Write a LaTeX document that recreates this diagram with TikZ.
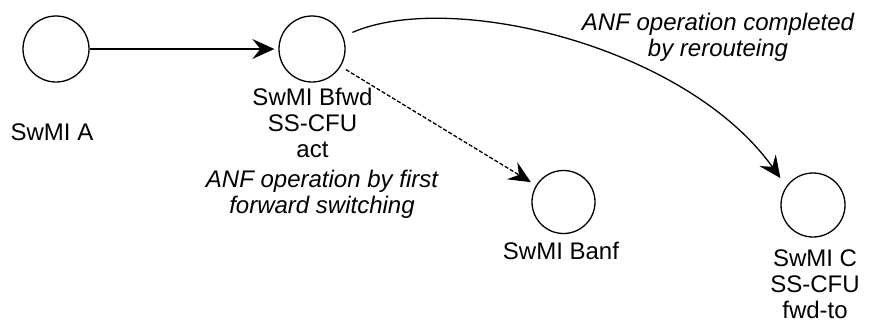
\documentclass[tikz,border=0pt]{standalone}
\usepackage{fontspec}
\setmainfont{Liberation Sans}
\usetikzlibrary{arrows.meta}
\tikzset{>={Stealth[length=11pt,width=10pt,inset=4pt]}}

\begin{document}
\begin{tikzpicture}[x=0.5pt,y=-0.5pt,line width=0.65pt]

  \tikzset{swmi/.style={draw,circle,minimum size=33pt,inner sep=0pt},
           lbl/.style={anchor=base,align=center,inner sep=0pt,
                       font=\fontsize{12}{13}\selectfont}}
  \useasboundingbox (0,0) rectangle (872,327);

  %% exchanges
  \node[swmi] (A) at (56,49) {};
  \node[swmi] (Bfwd) at (312,49) {};
  \node[swmi,minimum size=31.5pt] (Banf) at (563.5,202) {};
  \node[swmi,minimum size=32pt] (C) at (813,205) {};

  %% names below the circles (base = last line)
  \node[lbl] (lA) at (52,140) {SwMI A};
  \node[lbl] (lBfwd) at (312.5,157) {SwMI Bfwd\\SS-CFU\\act};
  \node[lbl] (lBanf) at (561,259) {SwMI Banf};
  \node[lbl] (lC) at (815,318) {SwMI C\\SS-CFU\\fwd-to};

  %% notes
  \node[lbl,font=\fontsize{12}{13}\selectfont\itshape] (nfirst) at (322,213)
    {ANF operation by first\\forward switching};
  \node[lbl,font=\fontsize{12}{13}\selectfont\itshape] (nreroute) at (718,56)
    {ANF operation completed\\by rerouteing};

  \draw[->,shorten >=2pt] (A) -- (Bfwd); %% A->Bfwd
  \draw[->,dash pattern=on 2pt off 1pt,shorten <=3pt,shorten >=3pt]
    (Bfwd) -- (Banf); %% Bfwd->Banf
  \draw[->,shorten <=5pt,shorten >=5pt]
    (Bfwd.22) .. controls (450,-10) and (685,45) .. (C.145); %% Bfwd->C

\end{tikzpicture}
\end{document}
